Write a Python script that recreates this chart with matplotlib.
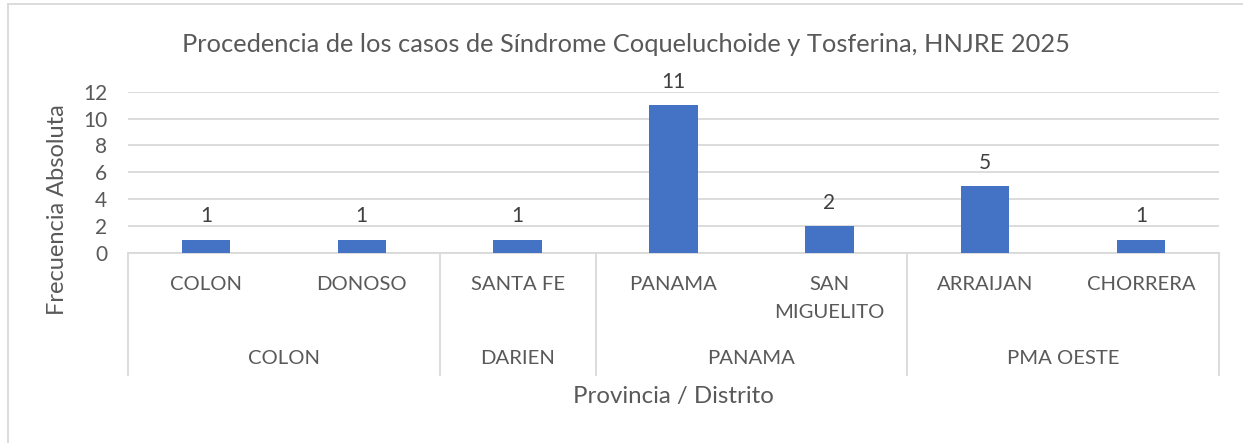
import matplotlib.pyplot as plt
from matplotlib.lines import Line2D

# data
distritos = ["COLON", "DONOSO", "SANTA FE", "PANAMA", "SAN\nMIGUELITO", "ARRAIJAN", "CHORRERA"]
casos = [1, 1, 1, 11, 2, 5, 1]
provincias = ["COLON", "DARIEN", "PANAMA", "PMA OESTE"]
distritos_por_provincia = [2, 1, 2, 2]
y_ticks = [0, 2, 4, 6, 8, 10, 12]

plt.rcParams['font.family'] = ['Lato', 'DejaVu Sans']
text_color = "#595959"
grid_color = "#D9D9D9"
bar_color = "#4472C4"
fs = 14.6

W, H = 1243, 443
fig = plt.figure(figsize=(W / 100, H / 100), dpi=100)

# axes placement in pixels
left, right, top, bottom = 128, 1219, 91.7, 253
ax = fig.add_axes([left / W, (H - bottom) / H, (right - left) / W, (bottom - top) / H])

x = list(range(len(casos)))
bars = ax.bar(x, casos, width=0.31, color=bar_color, zorder=3)
ax.bar_label(bars, padding=9.5, fontsize=15, color="#404040")

ax.set_xlim(-0.5, len(casos) - 0.5)
ax.set_ylim(0, 12)
ax.set_yticks(y_ticks)
ax.set_xticks([])
ax.tick_params(axis='y', length=0, pad=15, labelsize=15, labelcolor=text_color)
ax.grid(axis='y', color=grid_color, linewidth=1.3, zorder=0)
for s in ["top", "right", "left"]:
    ax.spines[s].set_visible(False)
ax.spines["bottom"].set_color(grid_color)
ax.spines["bottom"].set_linewidth(1.3)

# multi-level category axis
px = bottom - top
trans = ax.get_xaxis_transform()
sep_bottom = -(375 - bottom) / px
lvl1_y = -(284 - bottom) / px
lvl2_y = -(359 - bottom) / px

for i, name in enumerate(distritos):
    lines = name.split("\n")
    for k, line in enumerate(lines):
        ax.text(i, lvl1_y - k * 29 / px, line, transform=trans, ha='center', va='center',
                fontsize=fs, color=text_color)

edges = [-0.5]
for n in distritos_por_provincia:
    edges.append(edges[-1] + n)
for e in edges:
    ax.add_line(Line2D([e, e], [0, sep_bottom], transform=trans, color=grid_color,
                       linewidth=1.3, clip_on=False))
for j, prov in enumerate(provincias):
    mid = (edges[j] + edges[j + 1]) / 2
    ax.text(mid, lvl2_y, prov, transform=trans, ha='center', va='center',
            fontsize=fs, color=text_color)

ax.text((x[0] + x[-1]) / 2, -(397 - bottom) / px, "Provincia / Distrito", transform=trans,
        ha='center', va='center', fontsize=17.3, color=text_color)

fig.text(626 / W, 1 - 44 / H,
         "Procedencia de los casos de Síndrome Coqueluchoide y Tosferina, HNJRE 2025",
         ha='center', va='center', fontsize=18.3, color=text_color)
fig.text(58 / W, 1 - 210 / H, "Frecuencia Absoluta", rotation=90, ha='center', va='center',
         fontsize=17, color=text_color)

# chart border (only top and left visible)
fig.add_artist(Line2D([8 / W, 8 / W], [0, 1 - 4 / H], transform=fig.transFigure,
                      color=grid_color, linewidth=1.3))
fig.add_artist(Line2D([8 / W, 1], [1 - 4 / H, 1 - 4 / H], transform=fig.transFigure,
                      color=grid_color, linewidth=1.3))

fig.savefig("out.png", dpi=100, facecolor="white")
